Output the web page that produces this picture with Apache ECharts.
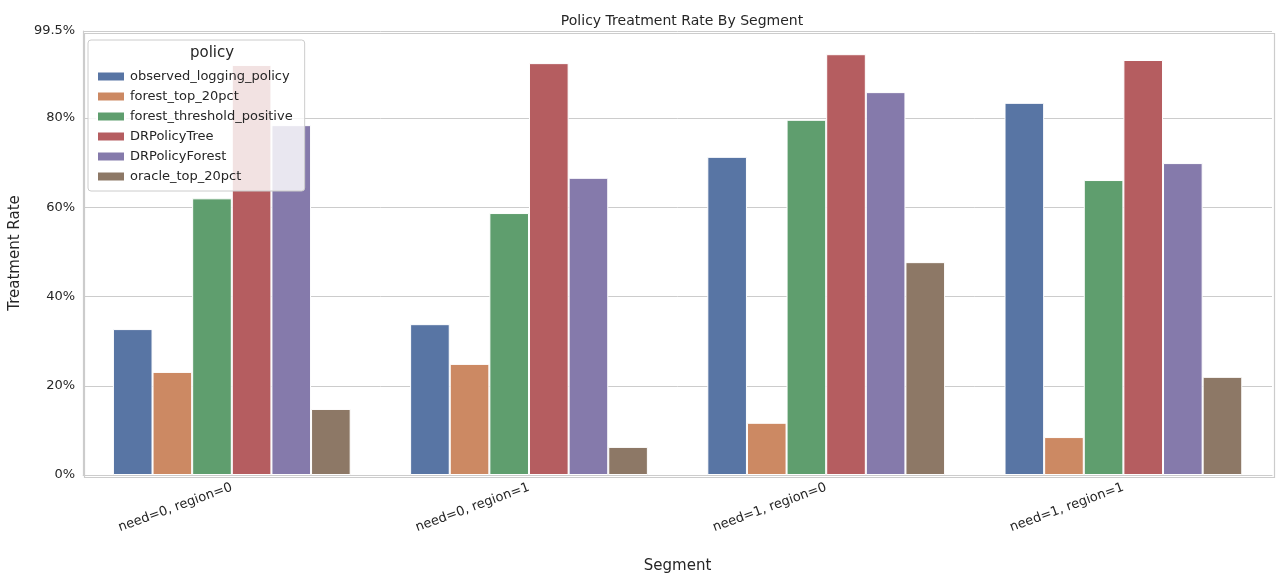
<!DOCTYPE html>
<html>
<head>
<meta charset="utf-8">
<script src="https://cdn.jsdelivr.net/npm/echarts@6/dist/echarts.min.js"></script>
<style>html,body{margin:0;padding:0;background:#fff}#main{width:1284px;height:584px}</style>
</head>
<body>
<div id="main"></div>
<script>
const segments = ['need=0, region=0', 'need=0, region=1', 'need=1, region=0', 'need=1, region=1'];
const policies = ['observed_logging_policy', 'forest_top_20pct', 'forest_threshold_positive', 'DRPolicyTree', 'DRPolicyForest', 'oracle_top_20pct'];
const observed = [32.7, 33.8, 71.3, 83.4];
const forestTop = [23.1, 24.9, 11.7, 8.5];
const forestThreshold = [62.0, 58.7, 79.6, 66.1];
const drTree = [91.9, 92.3, 94.3, 93.0];
const drForest = [78.4, 66.6, 85.8, 69.9];
const oracleTop = [14.8, 6.3, 47.7, 22.0];
const values = [observed, forestTop, forestThreshold, drTree, drForest, oracleTop];
const colors = ['#5875a4', '#cc8963', '#5f9e6e', '#b55d60', '#857aab', '#8d7866'];

const chart = echarts.init(document.getElementById('main'));
const font = 'DejaVu Sans';

const option = {
  textStyle: { fontFamily: font },
  title: {
    text: 'Policy Treatment Rate By Segment',
    left: 677, top: 9, textAlign: 'center',
    textStyle: { fontSize: 14, fontWeight: 'normal', color: '#262626', fontFamily: font }
  },
  grid: { left: 82, right: 12, top: 31, bottom: 109 },
  legend: {
    orient: 'vertical', left: 88, top: 40,
    padding: [30, 12, 8, 8],
    itemGap: 7, itemWidth: 28, itemHeight: 10,
    backgroundColor: 'rgba(255,255,255,0.82)',
    borderColor: '#cccccc', borderWidth: 1, borderRadius: 3,
    textStyle: { fontSize: 13, color: '#262626', fontFamily: font },
    icon: 'rect',
    data: policies
  },
  graphic: [{
    type: 'text', left: 190, top: 46, z: 100,
    style: { text: 'policy', fontSize: 15, fill: '#262626', fontFamily: font }
  }],
  xAxis: {
    type: 'category', data: segments,
    name: 'Segment', nameLocation: 'middle', nameGap: 84,
    nameTextStyle: { fontSize: 15, color: '#262626' },
    axisLine: { lineStyle: { color: '#cccccc', width: 1.2 } },
    axisTick: { show: false },
    axisLabel: { rotate: 20, fontSize: 13, color: '#262626', margin: 12 },
    splitLine: { show: false }
  },
  yAxis: {
    type: 'value', min: 0, max: 99.5, interval: 20,
    name: 'Treatment Rate', nameLocation: 'middle', nameGap: 58,
    nameTextStyle: { fontSize: 15, color: '#262626' },
    axisLine: { show: true, lineStyle: { color: '#cccccc', width: 1.2 } },
    axisTick: { show: false },
    axisLabel: { fontSize: 13, color: '#262626', formatter: v => v + '%' },
    splitLine: { lineStyle: { color: '#cccccc', width: 1 } }
  },
  series: policies.map((p, i) => ({
    name: p, type: 'bar', data: values[i],
    barGap: '0%', barCategoryGap: '20%',
    itemStyle: { color: colors[i], borderColor: '#ffffff', borderWidth: 1 }
  }))
};
// right/top frame
option.graphic.push({
  type: 'rect', left: 82, top: 31, z: -1, silent: true,
  shape: { width: 1190, height: 444 },
  style: { fill: 'none', stroke: '#cccccc', lineWidth: 1.2 }
});
chart.setOption(option);
</script>
</body>
</html>
